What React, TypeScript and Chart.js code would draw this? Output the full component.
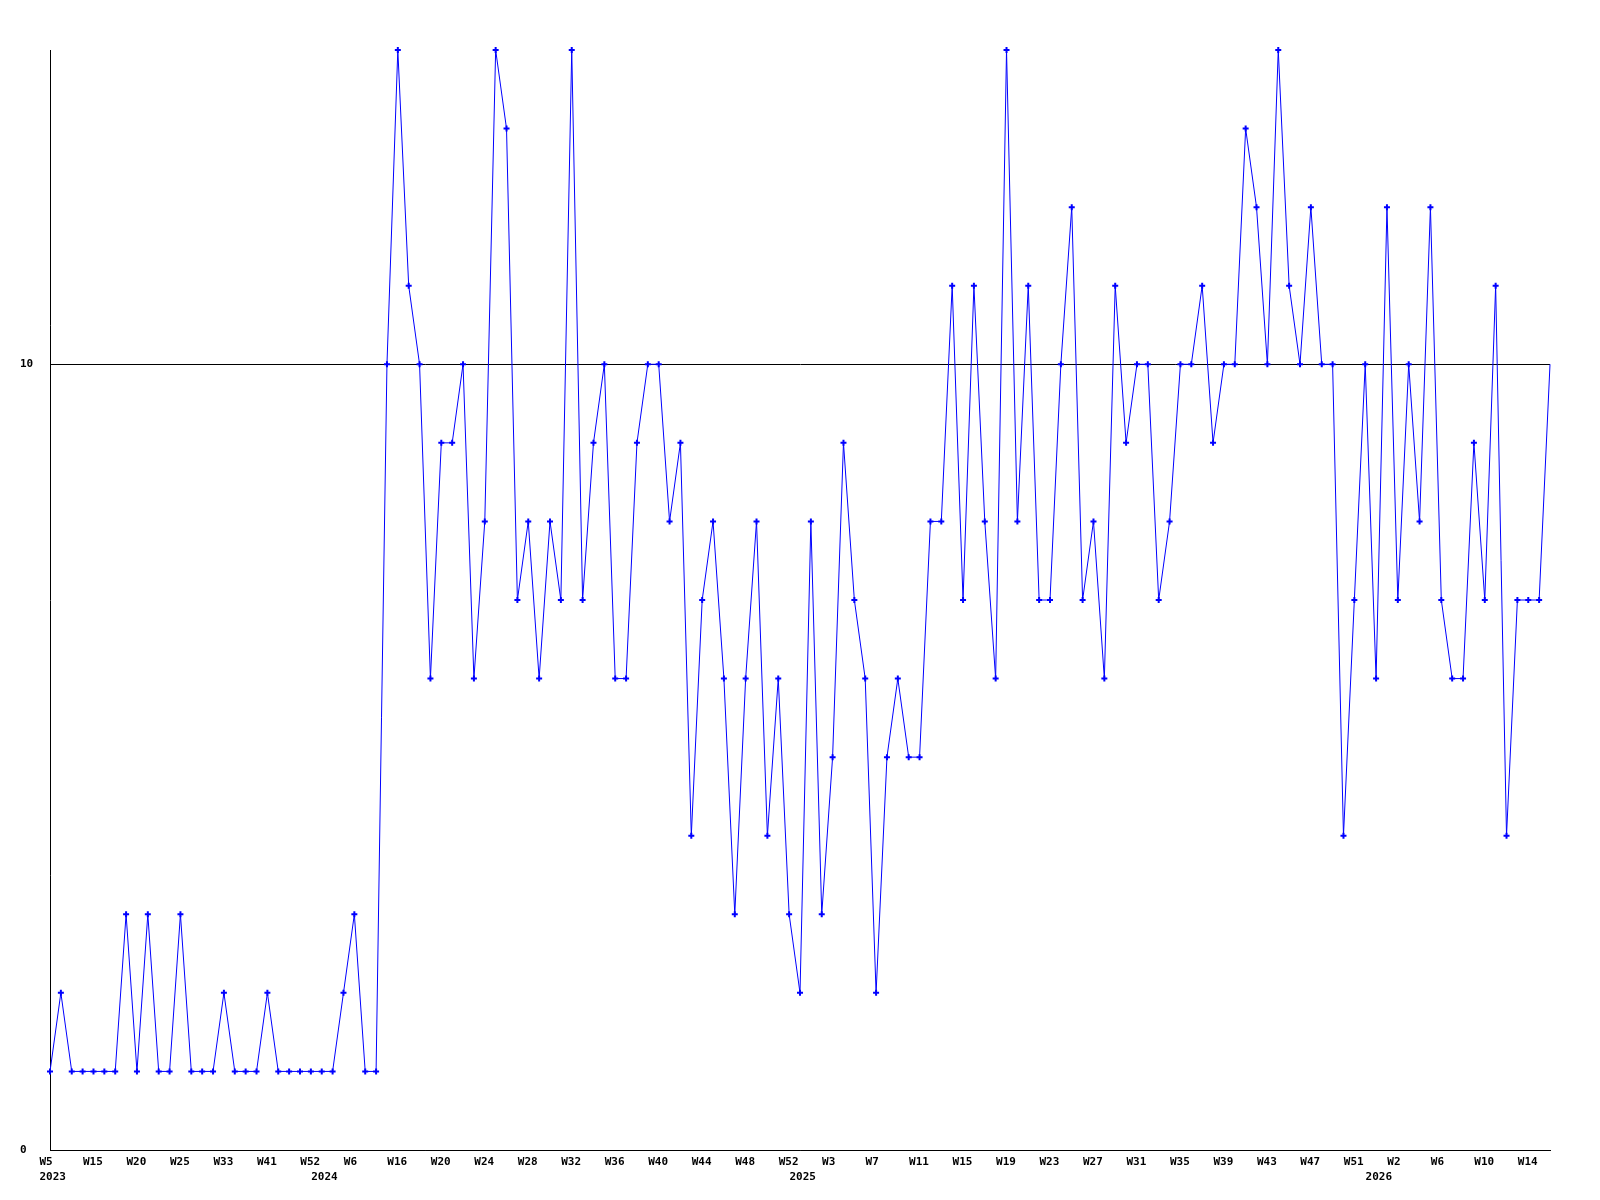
import React, { useEffect, useRef } from "react";
import { Chart, registerables } from "chart.js";

Chart.register(...registerables);

const years = ["2023", "2024", "2025", "2026"];

const weeks2023 = ["W5","W7","W10","W12","W15","W16","W17","W19","W20","W21","W22","W24","W25","W27","W29","W31","W33","W35","W37","W39","W41","W44","W47","W50","W52"];
const weeks2024 = ["W1","W3","W4","W6","W8","W11","W14","W16","W17","W18","W19","W20","W21","W22","W23","W24","W25","W26","W27","W28","W29","W30","W31","W32","W33","W34","W35","W36","W37","W38","W39","W40","W41","W42","W43","W44","W45","W46","W47","W48","W49","W50","W51","W52"];
const weeks2025 = ["W0","W1","W2","W3","W4","W5","W6","W7","W8","W9","W10","W11","W12","W13","W14","W15","W16","W17","W18","W19","W20","W21","W22","W23","W24","W25","W26","W27","W28","W29","W30","W31","W32","W33","W34","W35","W36","W37","W38","W39","W40","W41","W42","W43","W44","W45","W46","W47","W48","W49","W50","W51","W52"];
const weeks2026 = ["W0","W1","W2","W3","W4","W5","W6","W7","W8","W9","W10","W11","W12","W13","W14","W15","W16"];

const values2023 = [1,2,1,1,1,1,1,3,1,3,1,1,3,1,1,1,2,1,1,1,2,1,1,1,1];
const values2024 = [1,1,2,3,1,1,10,14,11,10,6,9,9,10,6,8,14,13,7,8,6,8,7,14,7,9,10,6,6,9,10,10,8,9,4,7,8,6,3,6,8,4,6,3];
const values2025 = [2,8,3,5,9,7,6,2,5,6,5,5,8,8,11,7,11,8,6,14,8,11,7,7,10,12,7,8,6,11,9,10,10,7,8,10,10,11,9,10,10,13,12,10,14,11,10,12,10,10,4,7,10];
const values2026 = [6,12,7,10,8,12,7,6,6,9,7,11,4,7,7,7,10];

const yTicks = [0, 10];

const weekGroups = [weeks2023, weeks2024, weeks2025, weeks2026];
const labels = ([] as string[]).concat(...weekGroups);
const data = ([] as number[]).concat(values2023, values2024, values2025, values2026);
const yearStart: Record<number, string> = {};
{
  let acc = 0;
  weekGroups.forEach((g, i) => {
    yearStart[acc] = years[i];
    acc += g.length;
  });
}

const FONT = { family: "'DejaVu Sans Mono', monospace", size: 11, weight: "bold" as const, lineHeight: "15px" };

export default function App() {
  const ref = useRef<HTMLCanvasElement | null>(null);
  useEffect(() => {
    if (!ref.current) return;
    const last = data.length - 1;
    const chart = new Chart(ref.current, {
      type: "line",
      data: {
        labels,
        datasets: [
          {
            data,
            borderColor: "#0000ff",
            backgroundColor: "#0000ff",
            borderWidth: 1,
            tension: 0,
            fill: false,
            pointStyle: "cross",
            pointRadius: (c: any) => (c.dataIndex === last ? 0 : 3),
            pointBorderWidth: 2,
            pointBorderColor: "#0000ff",
            pointHoverRadius: 3,
            clip: false as any,
          },
        ],
      },
      options: {
        animation: false,
        responsive: true,
        maintainAspectRatio: false,
        events: [],
        layout: { padding: { left: 20, right: 50, top: 50, bottom: 0 } },
        plugins: { legend: { display: false }, tooltip: { enabled: false }, title: { display: false } },
        scales: {
          x: {
            type: "category",
            offset: false,
            grid: { display: false, drawTicks: false },
            border: { display: true, color: "#000000", width: 1 },
            afterFit: (s: any) => { s.height = 50; },
            ticks: {
              autoSkip: false,
              maxRotation: 0,
              minRotation: 0,
              align: "start",
              labelOffset: -10.5,
              padding: 5,
              color: "#000000",
              font: FONT,
              callback: (_v: any, i: number) => {
                const w = i % 4 === 0 ? labels[i] : "";
                const y = yearStart[i];
                if (y !== undefined) return [w, y];
                return w;
              },
            },
          },
          y: {
            min: 0,
            max: 14,
            afterBuildTicks: (s: any) => { s.ticks = yTicks.map((v) => ({ value: v })); },
            afterFit: (s: any) => { s.width = 30; },
            grid: { display: true, color: "#000000", lineWidth: 1, drawTicks: false },
            border: { display: true, color: "#000000", width: 1 },
            ticks: {
              crossAlign: "far",
              color: "#000000",
              font: FONT,
              padding: 0,
            },
          },
        },
      },
    });
    return () => chart.destroy();
  }, []);
  return (
    <div style={{ position: "absolute", left: 0, top: 0, width: 1600, height: 1200, background: "#ffffff" }}>
      <canvas ref={ref} />
    </div>
  );
}
